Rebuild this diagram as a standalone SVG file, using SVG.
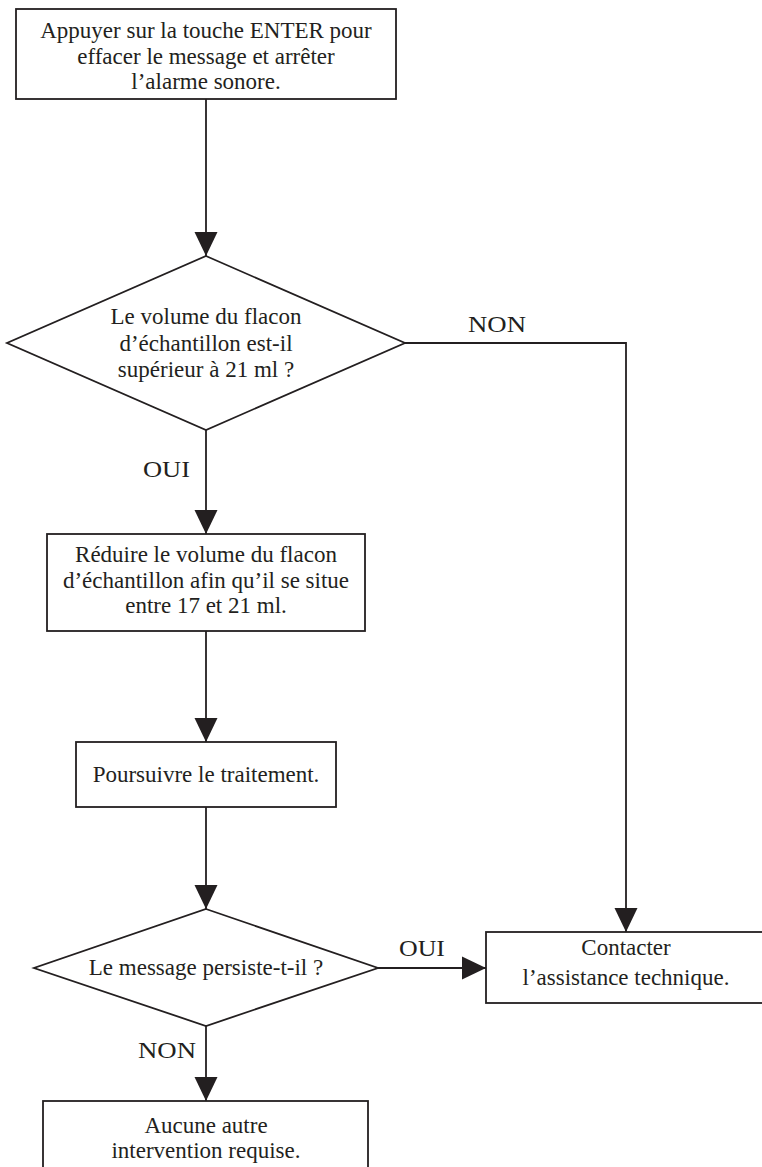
<svg xmlns="http://www.w3.org/2000/svg" width="762" height="1167" viewBox="0 0 762 1167">
<style>
.n{fill:#fff;stroke:#231f20;stroke-width:1.8}
.c{fill:none;stroke:#231f20;stroke-width:1.8}
text{font-family:"Liberation Serif","DejaVu Serif",serif;font-size:23px;fill:#231f20}
.m{text-anchor:middle}
</style>
<defs>
<marker id="ah" markerUnits="userSpaceOnUse" markerWidth="24" markerHeight="24" refX="24" refY="11.5" orient="auto" viewBox="0 0 24 23">
<path d="M0,0 L24,11.5 L0,23 z" fill="#231f20"/>
</marker>
</defs>
<rect width="762" height="1167" fill="#fff"/>
<g id="connectors">
<line class="c" x1="206" y1="99" x2="206" y2="256" marker-end="url(#ah)"/>
<polyline class="c" points="405,343 626,343 626,932" marker-end="url(#ah)"/>
<line class="c" x1="206" y1="430" x2="206" y2="534" marker-end="url(#ah)"/>
<line class="c" x1="206" y1="631" x2="206" y2="742" marker-end="url(#ah)"/>
<line class="c" x1="206" y1="807" x2="206" y2="909" marker-end="url(#ah)"/>
<line class="c" x1="378" y1="968" x2="486" y2="968" marker-end="url(#ah)"/>
<line class="c" x1="206" y1="1026" x2="206" y2="1101" marker-end="url(#ah)"/>
<text x="468" y="332" textLength="58" lengthAdjust="spacingAndGlyphs">NON</text>
<text x="143" y="477" textLength="47" lengthAdjust="spacingAndGlyphs">OUI</text>
<text x="399" y="956" textLength="46" lengthAdjust="spacingAndGlyphs">OUI</text>
<text x="138" y="1058" textLength="58" lengthAdjust="spacingAndGlyphs">NON</text>
</g>
<g id="n1">
<rect class="n" x="16" y="9" width="380" height="90"/>
<text class="m" x="206" y="38">Appuyer sur la touche ENTER pour</text>
<text class="m" x="206" y="64">effacer le message et arrêter</text>
<text class="m" x="206" y="89">l’alarme sonore.</text>
</g>
<g id="d1">
<polygon class="n" points="206,256 405,343 206,430 7,343"/>
<text class="m" x="206" y="324">Le volume du flacon</text>
<text class="m" x="206" y="351">d’échantillon est-il</text>
<text class="m" x="206" y="377">supérieur à 21 ml ?</text>
</g>
<g id="n3">
<rect class="n" x="47" y="534" width="318" height="97"/>
<text class="m" x="206" y="562">Réduire le volume du flacon</text>
<text class="m" x="206" y="588">d’échantillon afin qu’il se situe</text>
<text class="m" x="206" y="613">entre 17 et 21 ml.</text>
</g>
<g id="n4">
<rect class="n" x="76" y="742" width="260" height="65"/>
<text class="m" x="206" y="782">Poursuivre le traitement.</text>
</g>
<g id="d2">
<polygon class="n" points="206,909 378,968 206,1026 34,968"/>
<text class="m" x="206" y="975">Le message persiste-t-il ?</text>
</g>
<g id="n6">
<rect class="n" x="486" y="932" width="280" height="71"/>
<text class="m" x="626" y="955">Contacter</text>
<text class="m" x="626" y="985">l’assistance technique.</text>
</g>
<g id="n7">
<rect class="n" x="43" y="1101" width="325" height="80"/>
<text class="m" x="206" y="1133">Aucune autre</text>
<text class="m" x="206" y="1158">intervention requise.</text>
</g>
</svg>
